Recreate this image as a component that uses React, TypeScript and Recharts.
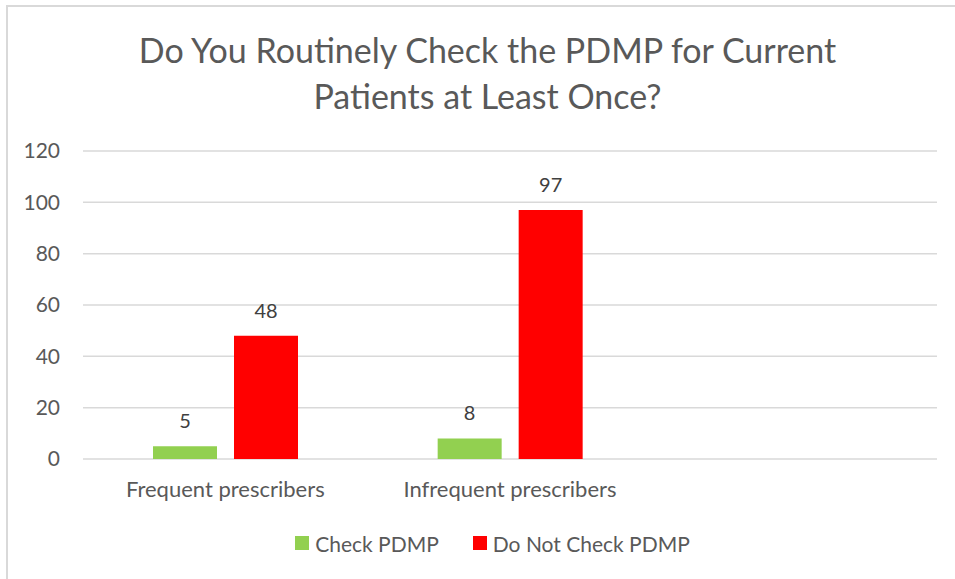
import React from 'react';
import { BarChart, Bar, XAxis, YAxis, CartesianGrid, Legend, LabelList } from 'recharts';

const categories = ['Frequent prescribers', 'Infrequent prescribers', ''];
const checkPdmp = [5, 8, null];
const doNotCheckPdmp = [48, 97, null];
const yTicks = [0, 20, 40, 60, 80, 100, 120];

const FONT = 'Lato, "Noto Sans", sans-serif';
const TEXT = '#595959';

const data = categories.map((name, i) => ({
  name,
  check: checkPdmp[i],
  notCheck: doNotCheckPdmp[i],
}));

const renderLegend = (props: any) => {
  const items = props.payload || [];
  return (
    <div style={{ display: 'flex', justifyContent: 'center', alignItems: 'center', height: 24, gap: 34 }}>
      {items.map((entry: any) => (
        <div key={entry.value} style={{ display: 'flex', alignItems: 'center', gap: 6 }}>
          <span style={{ width: 14, height: 14, background: entry.color, display: 'inline-block' }} />
          <span style={{ fontFamily: FONT, fontSize: 21, color: TEXT }}>{entry.value}</span>
        </div>
      ))}
    </div>
  );
};

export default function App() {
  return (
    <div style={{ position: 'absolute', left: 0, top: 0, width: 955, height: 579, background: '#fff', overflow: 'hidden' }}>
      {/* chart frame, only top and left edges are visible */}
      <div style={{ position: 'absolute', left: 6, top: 5, width: 1000, height: 700, borderTop: '2px solid #d9d9d9', borderLeft: '2px solid #d9d9d9' }} />
      <div
        style={{
          position: 'absolute', left: 0, top: 27, width: 975, textAlign: 'center',
          fontFamily: FONT, fontSize: 34, lineHeight: '46px', color: TEXT,
        }}
      >
        Do You Routinely Check the PDMP for Current
        <br />
        Patients at Least Once?
      </div>
      <div style={{ position: 'absolute', left: 0, top: 0 }}>
        <BarChart
          width={955}
          height={579}
          data={data}
          margin={{ top: 151, right: 18, bottom: 70, left: 0 }}
          barGap={17}
        >
          <CartesianGrid vertical={false} stroke="#d9d9d9" strokeWidth={1.5} />
          <XAxis
            dataKey="name"
            axisLine={false}
            tickLine={false}
            tickSize={0}
            tickMargin={22}
            height={50}
            interval={0}
            tick={{ fill: TEXT, fontSize: 22, fontFamily: FONT }}
          />
          <YAxis
            domain={[0, 120]}
            ticks={yTicks}
            axisLine={false}
            tickLine={false}
            tickSize={0}
            tickMargin={23}
            width={83}
            tick={{ fill: TEXT, fontSize: 21, fontFamily: FONT }}
          />
          <Legend
            layout="horizontal"
            verticalAlign="middle"
            align="center"
            content={renderLegend}
            wrapperStyle={{ top: 531, left: 30, width: 925 }}
          />
          <Bar dataKey="check" name="Check PDMP" fill="#92d050" barSize={64} isAnimationActive={false}>
            <LabelList dataKey="check" position="top" offset={18} fill="#404040" fontSize={20} fontFamily={FONT} />
          </Bar>
          <Bar dataKey="notCheck" name="Do Not Check PDMP" fill="#ff0000" barSize={64} isAnimationActive={false}>
            <LabelList dataKey="notCheck" position="top" offset={18} fill="#404040" fontSize={20} fontFamily={FONT} />
          </Bar>
        </BarChart>
      </div>
    </div>
  );
}
